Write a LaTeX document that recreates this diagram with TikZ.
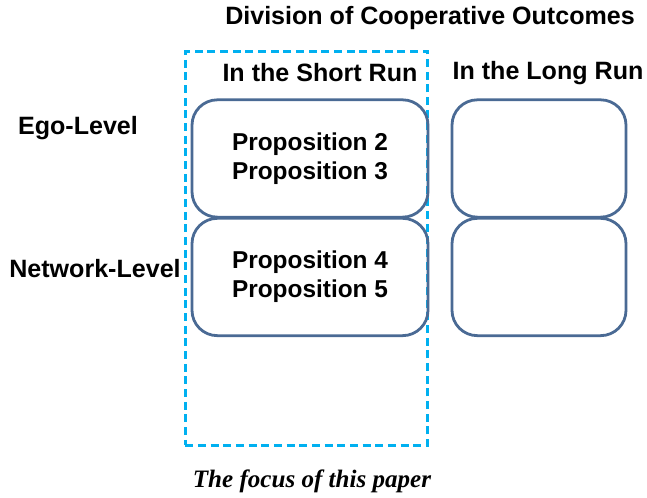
\documentclass[tikz,border=0pt]{standalone}
\usepackage{fontspec}
\setmainfont{Liberation Sans}
\newfontfamily\focusfont{Liberation Serif}
\usetikzlibrary{positioning}
\definecolor{boxline}{HTML}{4A6A94}
\definecolor{focusline}{HTML}{00B0F0}

\begin{document}
\begin{tikzpicture}
  [
    x=0.75pt, y=-0.75pt,
    block/.style =
      {draw=boxline, line width=2.1pt, rectangle, rounded corners=19pt,
       align=left, minimum width=177pt, minimum height=88pt, inner sep=0pt,
       font=\fontsize{18.3}{22}\selectfont\bfseries},
    longblock/.style =
      {block, minimum width=130.5pt},
    label/.style =
      {align=center, inner sep=0pt, font=\fontsize{18.8}{20}\selectfont\bfseries},
    focus/.style =
      {draw=focusline, line width=2.1pt, dash pattern=on 6pt off 3.5pt,
       rectangle, minimum width=182pt, minimum height=295pt, inner sep=0pt}
  ]
  \useasboundingbox (0,0) rectangle (647,498);

  \node [focus] at (306.5,248.5) (f) {};

  \node [block] at (310,158.5) (se) {Proposition 2\\Proposition 3};
  \node [block] at (310,277)   (sn) {Proposition 4\\Proposition 5};
  \node [longblock] at (539,158.5) (le) {};
  \node [longblock] at (539,277)   (ln) {};

  \node [label] at (430,18)  (title) {Division of Cooperative Outcomes};
  \node [label] at (320,73)  (sr)    {In the Short Run};
  \node [label] at (548,73)  (lr)    {In the Long Run};
  \node [label] at (78,128)  (ego)   {Ego-Level};
  \node [label] at (95,269)  (net)   {Network-Level};

  \node [font=\focusfont\fontsize{18.8}{20}\selectfont\bfseries\itshape, inner sep=0pt]
    at (312,481) (fp) {The focus of this paper};

\end{tikzpicture}
\end{document}
